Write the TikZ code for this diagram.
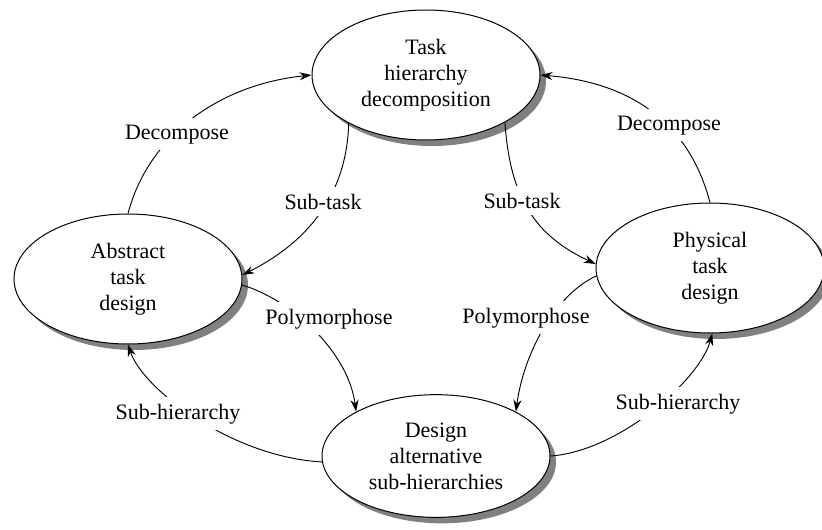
\documentclass[tikz,border=0pt]{standalone}
\usepackage{fontspec}
\setmainfont{Liberation Serif}
\usetikzlibrary{arrows.meta,shadows,shapes.geometric}
\definecolor{shadegray}{RGB}{128,128,128}
\begin{document}
\begin{tikzpicture}[x=0.75pt,y=-0.75pt,
  stage/.style={ellipse, draw, line width=0.75pt, fill=white,
    minimum width=171pt, minimum height=97.5pt, inner sep=0pt, align=center,
    font=\fontsize{16.5pt}{19.5pt}\selectfont,
    drop shadow={shadow xshift=4.5pt, shadow yshift=-4.5pt, fill=shadegray, opacity=1}},
  flow/.style={line width=0.7pt, -{Stealth[length=9pt,width=6pt]}},
  tag/.style={fill=white, inner sep=5pt, anchor=base,
    font=\fontsize{16.5pt}{19.5pt}\selectfont}]
\useasboundingbox (0,0) rectangle (822,529);

% the four design stages
\node[stage] (T) at (426,75) {Task\\hierarchy\\decomposition};
\node[stage] (A) at (128,279) {Abstract\\task\\design};
\node[stage] (P) at (710,268) {Physical\\task\\design};
\node[stage, minimum height=92pt] (D) at (436,456) {Design\\alternative\\sub-hierarchies};

% transitions between the stages
\draw[flow] (A.north) .. controls +(20,-76) and +(-95,10) .. (T.west);
\draw[flow] (P.north) .. controls +(-20,-76) and +(95,8) .. (T.east);
\draw[flow] (T.212) .. controls +(-2,76) and +(60,-30) .. (A.2);
\draw[flow] (T.329) .. controls +(5,76) and +(-60,-28) .. (P.178);
\draw[flow] (A.-3) .. controls +(50,15) and +(-8,-60) .. (D.151);
\draw[flow] (P.184) .. controls +(-40,18) and +(8,-60) .. (D.29);
\draw[flow] (D.183) .. controls +(-90,-5) and +(15,45) .. (A.south);
\draw[flow] (D.east) .. controls +(70,-5) and +(-12,45) .. (P.-88);

% transition labels
\node[tag] (decL) at (177,139) {Decompose};
\node[tag] (decR) at (669,130) {Decompose};
\node[tag] (subL) at (323,209) {Sub-task};
\node[tag] (subR) at (522,208) {Sub-task};
\node[tag] (polL) at (329,324) {Polymorphose};
\node[tag] (polR) at (526,323) {Polymorphose};
\node[tag] (hieL) at (178,419) {Sub-hierarchy};
\node[tag] (hieR) at (678,409) {Sub-hierarchy};
\end{tikzpicture}
\end{document}
